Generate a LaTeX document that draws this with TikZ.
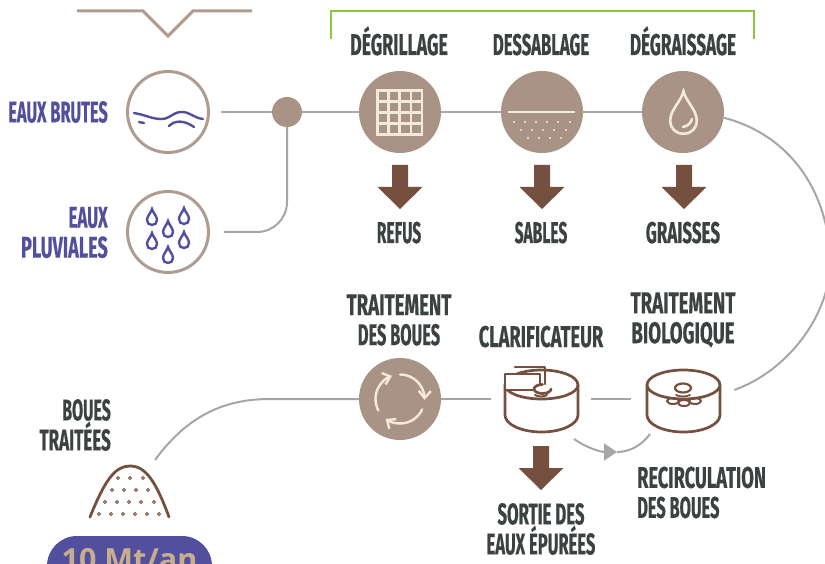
\documentclass[tikz,border=0pt]{standalone}
\usepackage{fontspec}
\usetikzlibrary{arrows.meta}
\newfontfamily\mainhand[FakeStretch=0.52,FakeBold=0.4,UprightFont=* Bold]{Fira Sans}
\newfontfamily\pillfont[UprightFont=* Bold]{Open Sans}
\newcommand{\lar}[2]{\scalebox{#1}[1]{#2}}
\definecolor{taupe}{HTML}{A99384}
\definecolor{lignetaupe}{HTML}{B09C8E}
\definecolor{brun}{HTML}{76503F}
\definecolor{creme}{HTML}{F4EADB}
\definecolor{bleu}{HTML}{52509E}
\definecolor{encre}{HTML}{3C4241}
\definecolor{flux}{HTML}{A6A6A6}
\definecolor{vert}{HTML}{8DC63F}
\definecolor{sable}{HTML}{C9AE8E}
\tikzset{
  lbl/.style={text=encre,font=\mainhand\fontsize{30}{30}\selectfont,inner sep=0pt,align=center},
  lblbase/.style={lbl,anchor=base},
  lblbleu/.style={lbl,text=bleu,align=right},
  plein/.style={circle,fill=taupe,minimum size=82pt,inner sep=0pt},
  anneau/.style={circle,draw=lignetaupe,line width=3pt,fill=white,minimum size=81pt,inner sep=0pt},
  zone/.style={circle,minimum size=#1,inner sep=0pt},
  ligneflux/.style={draw=flux,line width=2pt},
  trait/.style={draw=brun,line width=2.7pt,line cap=round,line join=round},
  icone/.style={draw=creme,line width=2.6pt},
  goutte/.pic={\draw[pic actions] (0,-8) .. controls (1,-4) and (5,-1) .. (5,3) .. controls (5,6) and (3,8) .. (0,8) .. controls (-3,8) and (-5,6) .. (-5,3) .. controls (-5,-1) and (-1,-4) .. (0,-8) -- cycle;},
  fleche/.pic={\fill[brun] (-8,0) -- (8,0) -- (8,22) -- (22.5,22) -- (0,44) -- (-22.5,22) -- (-8,22) -- cycle;},
  cuve/.pic={\draw[trait,fill=white] (-36.5,-2) arc[start angle=180,end angle=360,x radius=36.5,y radius=15]
      -- (36.5,28) arc[start angle=0,end angle=180,x radius=36.5,y radius=17] -- cycle;
    \draw[trait] (-36.5,-2) arc[start angle=180,end angle=0,x radius=36.5,y radius=14];},
}
\begin{document}
\begin{tikzpicture}[x=1pt,y=-1pt]
  \useasboundingbox (0,0) rectangle (825,564);
  \clip (0,0) rectangle (825,564);

  % haut de page
  \draw[lignetaupe,line width=3pt] (77,11) -- (143,11) -- (168,36) -- (193,11) -- (252,11);
  \draw[vert,line width=1.5pt] (331,39) -- (331,11) -- (754,11) -- (754,39);

  % etapes
  \node[anneau] (brutes)    at (168,112) {};
  \node[anneau] (pluviales) at (168,232) {};
  \node[circle,fill=taupe,minimum size=30pt,inner sep=0pt] (jonction) at (287,112) {};
  \node[plein] (degrillage)  at (400,112) {};
  \node[plein] (dessablage)  at (542,112) {};
  \node[plein] (degraissage) at (683,112) {};
  \node[plein] (traitement)  at (400,399) {};
  \node[zone=100pt] (clarif) at (541,399) {};
  \node[zone=104pt] (bio)    at (683,399) {};
  \coordinate (tasbord) at (155,460);
  \coordinate (recircdepart) at (574,439);
  \coordinate (recircpointe) at (617,452);
  \coordinate (recircfin) at (650,434);

  \begin{scope}[every path/.style={ligneflux}]
    \path[shorten <=11pt] (brutes) -- (jonction);
    \path (jonction) -- (degrillage);
    \path (degrillage) -- (dessablage);
    \path (dessablage) -- (degraissage);
    \path[rounded corners=30pt,shorten <=14pt] (pluviales) -| (jonction);
    \path (degraissage.-8) .. controls (790,135) and (826,190) .. (830,254) .. controls (834,310) and (790,370) .. (bio.10);
    \path (traitement) -- (clarif);
    \path (clarif) -- (bio);
    \path (tasbord) .. controls (188,415) and (225,399) .. (270,399) -- (traitement);
    \path (recircpointe) .. controls (630,452) and (642,445) .. (recircfin);
  \end{scope}
  \draw[ligneflux,-{Triangle[length=13pt,width=17pt,fill=flux]}] (recircdepart) .. controls (585,447) and (600,452) .. (recircpointe);

  % textes
  \node[lblbleu,anchor=east] (tbrutes) at (108,112) {\lar{1.05}{EAUX BRUTES}};
  \node[lblbleu,anchor=east] (tpluv) at (108,232.5) {\lar{1.08}{EAUX}\\\lar{1.16}{PLUVIALES}};
  \node[lblbase] (tdegrillage) at (399,55) {\lar{1.14}{DÉGRILLAGE}};
  \node[lblbase] (tdessablage) at (541,55) {\lar{1.07}{DESSABLAGE}};
  \node[lblbase] (tdegraissage) at (683,55) {\lar{1.10}{DÉGRAISSAGE}};
  \node[lblbase] (trefus) at (399,243) {REFUS};
  \node[lblbase] (tsables) at (541,243) {SABLES};
  \node[lblbase] (tgraisses) at (683,243) {\lar{1.09}{GRAISSES}};
  \node[lbl] (ttraitement) at (399,320) {\lar{1.195}{TRAITEMENT}\\\lar{1.05}{DES BOUES}};
  \node[lblbase] (tclarif) at (541,347) {\lar{1.17}{CLARIFICATEUR}};
  \node[lbl] (tbio) at (683,320) {\lar{1.195}{TRAITEMENT}\\\lar{1.186}{BIOLOGIQUE}};
  \node[lbl,align=left,anchor=west] (trecirc) at (637,492.5) {\lar{1.17}{RECIRCULATION}\\\lar{1.05}{DES BOUES}};
  \node[lbl] (tsortie) at (541,529) {\lar{1.074}{SORTIE DES}\\\lar{1.06}{EAUX ÉPURÉES}};
  \node[lbl,align=right,anchor=east] (ttas) at (111,425) {\lar{1.02}{BOUES}\\\lar{1.09}{TRAITÉES}};

  % fleches
  \foreach \x in {400,542,684}
    \pic at (\x,165) {fleche};
  \pic at (541,446) {fleche};

  % eau
  \begin{scope}[line width=2.4pt,line cap=round]
    \draw[bleu] (134,113) .. controls (146,115) and (152,119) .. (161,119) .. controls (171,119) and (172,112) .. (182,112) .. controls (190,112) and (194,118) .. (203,119);
    \draw[bleu] (139,122) -- (144,123);
    \draw[bleu] (169,126) .. controls (175,120) and (184,120) .. (194,127);
    \foreach \x/\y in {152/217,184/216,168/229,152/241,184/240,168/255}
      \pic[bleu] at (\x,\y) {goutte};
  \end{scope}

  % grille
  \draw[icone] (377.5,90.5) rectangle (422,134.5);
  \foreach \k in {1,2,3} {
    \draw[icone] (377.5+11.1*\k,90.5) -- (377.5+11.1*\k,134.5);
    \draw[icone] (377.5,90.5+11*\k) -- (422,90.5+11*\k);
  }

  % sable
  \draw[icone,line cap=round] (509,112) -- (574,112);
  \foreach \x in {514,525,536,547,558,570}
    \fill[creme] (\x,122) circle (1.2);
  \foreach \x in {521,532,543,554,566}
    \fill[creme] (\x,130) circle (1.2);
  \foreach \x in {528,539,550,561}
    \fill[creme] (\x,138) circle (1.2);

  % goutte
  \pic[icone,scale=2.65] at (683.5,112.5) {goutte};
  \draw[icone,line cap=round] (683,127) .. controls (688,126) and (691,123) .. (692,119);

  % recyclage
  \begin{scope}[shift={(400,399)},every path/.style={draw=creme,line width=2.4pt,line cap=round}]
    \draw[-{Straight Barb[length=7pt,width=12pt]}] (-90:24.5) arc[start angle=-90,end angle=2,radius=24.5];
    \draw[-{Straight Barb[length=7pt,width=12pt]}] (25:24.5) arc[start angle=25,end angle=126,radius=24.5];
    \draw[-{Straight Barb[length=7pt,width=12pt]}] (152:24.5) arc[start angle=152,end angle=251,radius=24.5];
  \end{scope}

  % clarificateur
  \pic at (541.5,387) {cuve};
  \draw[trait,fill=white] (505,374) rectangle (540,390);
  \draw[trait] (515,367) -- (545,367) -- (545,384);
  \draw[trait,fill=white] (551,389) arc[start angle=0,end angle=270,x radius=8.5,y radius=4.5];
  \draw[trait,line width=2pt] (535,395) .. controls (538,397) and (544,397) .. (547,395);

  % traitement biologique
  \pic at (683.5,387) {cuve};
  \draw[trait,line width=2.2pt] (683,388) circle[x radius=8,y radius=4.5];
  \draw[trait,line width=1.8pt] (676,395) .. controls (680,397) and (686,397) .. (690,395);
  \foreach \x/\y in {673/401,684/403,695/401}
    \draw[trait,line width=2pt] (\x,\y) circle[x radius=6,y radius=3];

  % tas
  \draw[trait,line width=2.8pt] (90,517) .. controls (105,480) and (115,466) .. (130,466) .. controls (146,466) and (156,482) .. (169,517);
  \foreach \y/\xlist in {478/{118,130,143},490/{112,124,136,148},502/{105,117,129,141,154},514/{99,111,123,135,147,159}}
    \foreach \x in \xlist
      \draw[brun,line width=0.9pt] (\x,\y) circle (1.5);

  % tonnage
  \node[fill=bleu,rounded corners=30pt,minimum width=165pt,minimum height=70pt,inner sep=0pt] (pastille) at (129.5,571) {};
  \node[text=sable,font=\pillfont\fontsize{30.5}{30.5}\selectfont,anchor=base,inner sep=0pt] (ttonnage) at (129.5,570) {10 Mt/an};
\end{tikzpicture}
\end{document}
